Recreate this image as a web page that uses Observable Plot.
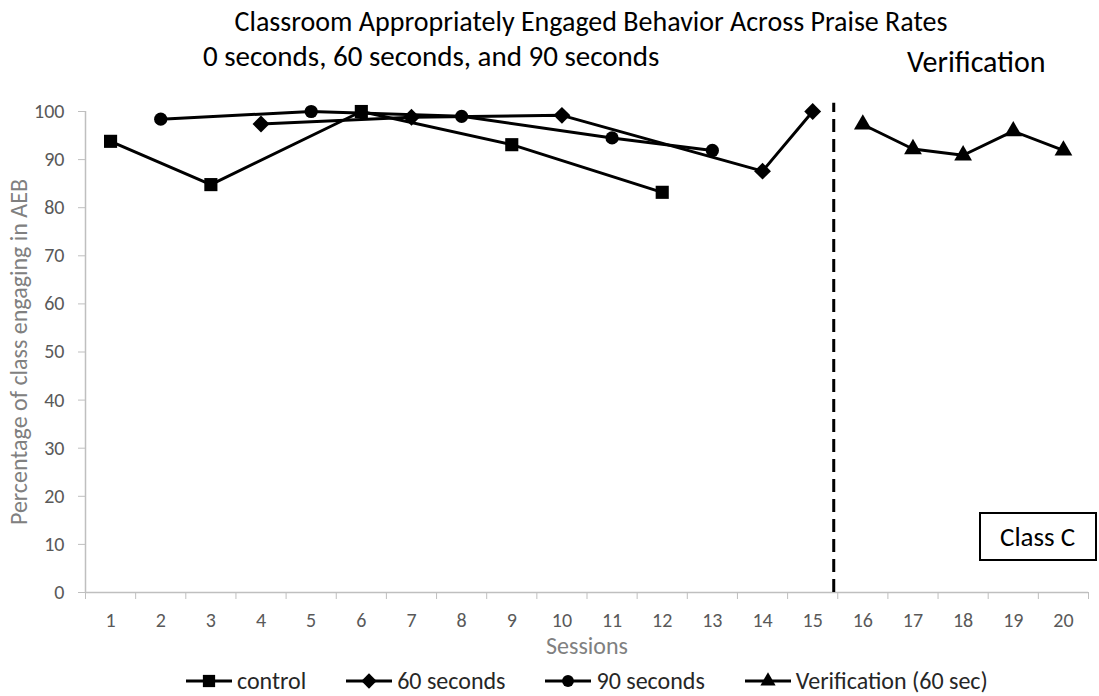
<!DOCTYPE html>
<html>
<head>
<meta charset="utf-8">
<script src="https://cdn.jsdelivr.net/npm/d3@7"></script>
<script src="https://cdn.jsdelivr.net/npm/@observablehq/plot@0.6"></script>
<style>
  body { margin: 0; background: #fff; font-family: Carlito, Lato, "Liberation Sans", sans-serif; }
  #wrap { position: relative; width: 1099px; height: 696px; overflow: hidden; }
  #wrap svg.chart { position: absolute; left: 0; top: 0; }
  .t { position: absolute; white-space: nowrap; color: #000; line-height: 1; }
  #classbox { position: absolute; left: 979px; top: 512px; width: 118px; height: 49px; border: 2px solid #000; box-sizing: border-box;
              font-size: 27px; display: flex; align-items: center; padding-left: 19px; line-height: 1; }
  #legend { position: absolute; top: 667px; left: 185px; display: flex; align-items: center; font-size: 24px; color: #262626; line-height: 1.2; }
  #legend .item { display: flex; align-items: center; margin-right: 39px; }
  #legend .item svg { margin-right: 4px; }
</style>
</head>
<body>
<div id="wrap"></div>
<script>
const sessions = [1,2,3,4,5,6,7,8,9,10,11,12,13,14,15,16,17,18,19,20];
const controlSessions = [1, 3, 6, 9, 12];
const controlValues = [93.8, 84.8, 100, 93.1, 83.2];
const sec60Sessions = [4, 7, 10, 14, 15];
const sec60Values = [97.4, 98.8, 99.2, 87.6, 100];
const sec90Sessions = [2, 5, 8, 11, 13];
const sec90Values = [98.4, 100, 99.0, 94.5, 91.9];
const verifSessions = [16, 17, 18, 19, 20];
const verifValues = [97.3, 92.2, 90.9, 95.9, 91.9];
const seriesNames = ["control", "60 seconds", "90 seconds", "Verification (60 sec)"];
const seriesSymbols = ["square", "diamond2", "circle", "triangle"];
const yTicks = [0,10,20,30,40,50,60,70,80,90,100];
const phaseChange = 15.42;
const phaseTop = 101.7;

const mk = (xs, vs, name) => xs.map((s, i) => ({session: s, value: vs[i], series: name}));
const data = [
  mk(controlSessions, controlValues, seriesNames[0]),
  mk(sec60Sessions, sec60Values, seriesNames[1]),
  mk(sec90Sessions, sec90Values, seriesNames[2]),
  mk(verifSessions, verifValues, seriesNames[3])
];
const boundaries = [0, ...sessions].map(s => s + 0.5);
const axisGray = "#bfbfbf";
const labelGray = "#595959";

const marks = [
  Plot.ruleY([0], {stroke: axisGray, strokeWidth: 1.5}),
  Plot.ruleX([0.5], {y1: 0, y2: 100, stroke: axisGray, strokeWidth: 1.5}),
  Plot.axisY(yTicks, {tickSize: 7, stroke: axisGray, tickPadding: 14, fontSize: 20, color: labelGray,
              label: "Percentage of class engaging in AEB", labelAnchor: "center", labelArrow: "none", labelOffset: 76}),
  Plot.axisX({ticks: boundaries, tickSize: 7, stroke: axisGray, tickFormat: () => "", label: null}),
  Plot.axisX({ticks: sessions, tickSize: 0, tickPadding: 20, fontSize: 20, color: labelGray, tickFormat: d => String(d),
              label: "Sessions", labelAnchor: "center", labelArrow: "none", labelOffset: 61}),
  Plot.ruleX([phaseChange], {y1: 0, y2: phaseTop, stroke: "#000", strokeWidth: 3, strokeDasharray: "13,7"})
];
data.forEach((d, i) => {
  marks.push(Plot.line(d, {x: "session", y: "value", stroke: "#000", strokeWidth: 3}));
  const r = seriesSymbols[i] === "square" ? 7.4 : seriesSymbols[i] === "diamond2" ? 7.6 : 6.6;
  marks.push(Plot.dot(d, {x: "session", y: "value", symbol: () => seriesSymbols[i], r, fill: "#000", stroke: "none"}));
});

const chart = Plot.plot({
  width: 1099, height: 696,
  marginLeft: 85, marginRight: 11, marginTop: 111, marginBottom: 104,
  x: {type: "linear", domain: [0.5, 20.5]},
  y: {domain: [0, 100]},
  symbol: {type: "identity"},
  style: {fontFamily: "Carlito, Lato, 'Liberation Sans', sans-serif", background: "#fff", color: labelGray, overflow: "visible"},
  marks
});
chart.classList.add("chart");
const sel = d3.select(chart);
sel.selectAll("[aria-label='y-axis label'] text, [aria-label='x-axis label'] text").attr("fill", "#808080").style("font-size", "24px");
const wrap = document.getElementById("wrap");
wrap.appendChild(chart);

// make sure y tick labels end ~21px left of the axis (as in the reference)
const yTickG = chart.querySelector("[aria-label='y-axis tick label']");
if (yTickG) {
  let right = -Infinity;
  yTickG.querySelectorAll("text").forEach(t => { const b = t.getBoundingClientRect(); right = Math.max(right, b.right); });
  const shift = 64 - right;
  if (isFinite(shift) && Math.abs(shift) > 1) {
    const prev = yTickG.getAttribute("transform") || "";
    yTickG.setAttribute("transform", `translate(${shift},0) ${prev}`);
  }
}

function addText(txt, left, top, size) {
  const el = document.createElement("div");
  el.className = "t"; el.textContent = txt;
  el.style.left = left + "px"; el.style.top = top + "px"; el.style.fontSize = size + "px";
  wrap.appendChild(el);
  return el;
}
const title = addText("Classroom Appropriately Engaged Behavior Across Praise Rates", 591, 8, 28);
title.style.transform = "translateX(-50%)";
addText("0 seconds, 60 seconds, and 90 seconds", 203, 42, 29);
addText("Verification", 907, 47, 30);

const box = document.createElement("div");
box.id = "classbox"; box.textContent = "Class C";
wrap.appendChild(box);

const legend = document.createElement("div");
legend.id = "legend";
const ns = "http://www.w3.org/2000/svg";
seriesNames.forEach((name, i) => {
  const item = document.createElement("div");
  item.className = "item";
  const s = document.createElementNS(ns, "svg");
  s.setAttribute("width", 48); s.setAttribute("height", 20);
  const ln = document.createElementNS(ns, "line");
  ln.setAttribute("x1", 1); ln.setAttribute("x2", 47); ln.setAttribute("y1", 10); ln.setAttribute("y2", 10);
  ln.setAttribute("stroke", "#000"); ln.setAttribute("stroke-width", 3);
  s.appendChild(ln);
  const symType = {square: d3.symbolSquare, diamond2: d3.symbolDiamond2, circle: d3.symbolCircle, triangle: d3.symbolTriangle}[seriesSymbols[i]];
  const sizes = {square: 150, diamond2: 150, circle: 110, triangle: 100};
  const p = document.createElementNS(ns, "path");
  p.setAttribute("d", d3.symbol(symType, sizes[seriesSymbols[i]])());
  p.setAttribute("transform", "translate(24,10)");
  p.setAttribute("fill", "#000");
  s.appendChild(p);
  item.appendChild(s);
  const sp = document.createElement("span");
  sp.textContent = name;
  item.appendChild(sp);
  legend.appendChild(item);
});
wrap.appendChild(legend);
</script>
</body>
</html>
